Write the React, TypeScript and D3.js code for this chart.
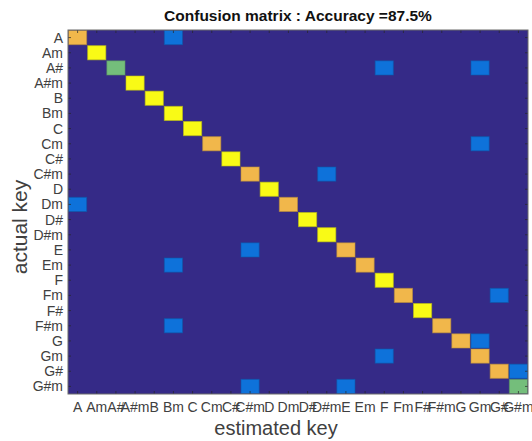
import React from "react";
import * as d3 from "d3";

// 24 keys, same order on both axes
const keys = [
  "A", "Am", "A#", "A#m", "B", "Bm", "C", "Cm", "C#", "C#m", "D", "Dm",
  "D#", "D#m", "E", "Em", "F", "Fm", "F#", "F#m", "G", "Gm", "G#", "G#m",
];
// correct hits per actual key (diagonal)
const diagonal = [3, 4, 2, 4, 4, 4, 4, 3, 4, 3, 4, 3, 4, 4, 3, 3, 4, 3, 4, 3, 3, 3, 3, 2];
// misclassifications: [actual, estimated, count]
const misses: [string, string, number][] = [
  ["A", "Bm", 1],
  ["A#", "F", 1],
  ["A#", "Gm", 1],
  ["Cm", "Gm", 1],
  ["C#m", "D#m", 1],
  ["Dm", "A", 1],
  ["E", "C#m", 1],
  ["Em", "Bm", 1],
  ["Fm", "G#", 1],
  ["F#m", "Bm", 1],
  ["G", "Gm", 1],
  ["Gm", "F", 1],
  ["G#", "G#m", 1],
  ["G#m", "C#m", 1],
  ["G#m", "E", 1],
];
const titleText = "Confusion matrix : Accuracy =87.5%";
const colors = ["#352a87", "#0e72da", "#74be7b", "#f1b74b", "#f9fa16"];

export default function App() {
  const width = 532,
    height = 441;
  const left = 68,
    right = 528,
    top = 30,
    bottom = 394;

  const x = d3.scaleBand().domain(keys).range([left, right]);
  const y = d3.scaleBand().domain(keys).range([top, bottom]);
  const color = d3.scaleOrdinal<number, string>().domain([0, 1, 2, 3, 4]).range(colors);

  const cells: { a: string; e: string; v: number }[] = [];
  keys.forEach((k, i) => cells.push({ a: k, e: k, v: diagonal[i] }));
  misses.forEach(([a, e, v]) => cells.push({ a, e, v }));

  const font = "'Liberation Sans', Arial, sans-serif";
  const tick = 3;

  return (
    <svg
      width={width}
      height={height}
      style={{ position: "absolute", left: 0, top: 0, background: "#fff" }}
      fontFamily={font}
    >
      {/* 背景 */}
      <rect x={left} y={top} width={right - left} height={bottom - top} fill={colors[0]} />

      {/* セル */}
      <g>
        {cells.map((c, i) => {
          const fill = color(c.v);
          return (
            <rect
              key={i}
              x={x(c.e)! + 0.5}
              y={y(c.a)! + 0.5}
              width={x.bandwidth() - 1}
              height={y.bandwidth() - 1}
              fill={fill}
              stroke={d3.color(fill)!.darker(0.7).formatHex()}
              strokeOpacity={0.6}
              strokeWidth={1}
            />
          );
        })}
      </g>

      {/* 目盛 */}
      <g stroke="#262626" strokeOpacity={0.7} strokeWidth={1}>
        {keys.map((k) => {
          const cx = x(k)! + x.bandwidth() / 2;
          const cy = y(k)! + y.bandwidth() / 2;
          return (
            <g key={k}>
              <line x1={cx} x2={cx} y1={top} y2={top + tick} />
              <line x1={cx} x2={cx} y1={bottom} y2={bottom - tick} />
              <line x1={left} x2={left + tick} y1={cy} y2={cy} />
              <line x1={right} x2={right - tick} y1={cy} y2={cy} />
            </g>
          );
        })}
      </g>
      <rect
        x={left}
        y={top}
        width={right - left}
        height={bottom - top}
        fill="none"
        stroke="#6b6b6b"
        strokeWidth={1}
      />

      {/* y軸ラベル */}
      <g fontSize={14} fill="#404040" textAnchor="end">
        {keys.map((k) => (
          <text key={k} x={left - 5} y={y(k)! + y.bandwidth() / 2} dominantBaseline="central">
            {k}
          </text>
        ))}
      </g>
      {/* x軸ラベル */}
      <g fontSize={14} fill="#404040" textAnchor="middle">
        {keys.map((k) => (
          <text key={k} x={x(k)! + x.bandwidth() / 2} y={412}>
            {k}
          </text>
        ))}
      </g>

      <text x={276} y={435} fontSize={20} fill="#404040" textAnchor="middle">
        estimated key
      </text>
      <text
        transform="translate(27,227) rotate(-90)"
        fontSize={21}
        fill="#404040"
        textAnchor="middle"
      >
        actual key
      </text>
      <text
        x={(left + right) / 2}
        y={21}
        fontSize={15.5}
        fontWeight="bold"
        fill="#111"
        textAnchor="middle"
      >
        {titleText}
      </text>
    </svg>
  );
}
